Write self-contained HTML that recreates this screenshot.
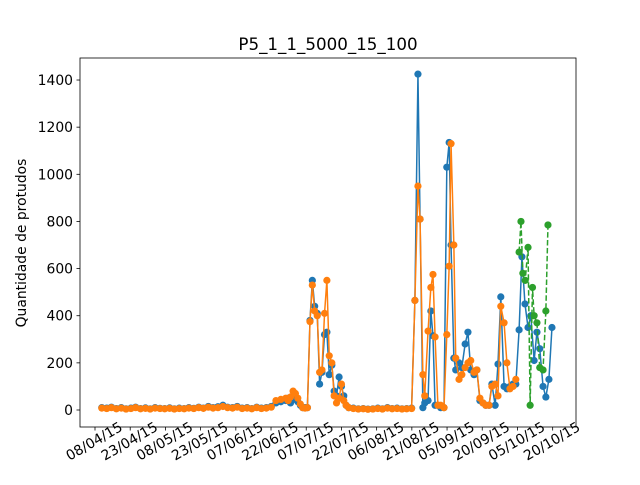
<!DOCTYPE html>
<html><head><meta charset="utf-8"><style>body{margin:0;background:#fff}svg{font-family:"DejaVu Sans","Liberation Sans",sans-serif}</style></head>
<body>
<svg id="chart" width="640" height="480" xmlns="http://www.w3.org/2000/svg">
<rect width="640" height="480" fill="#fff"/>
<text x="328" y="50" text-anchor="middle" font-size="16.7">P5_1_1_5000_15_100</text>
<text transform="translate(26,243) rotate(-90)" text-anchor="middle" font-size="13.9">Quantidade de protudos</text>
<g id="axes"></g>
<g id="plot"></g>
<rect x="80" y="58" width="496" height="369" fill="none" stroke="#000" stroke-width="0.8"/>
</svg>
<script>
const xTickLabels=["08/04/15","23/04/15","08/05/15","23/05/15","07/06/15","22/06/15","07/07/15","22/07/15","06/08/15","21/08/15","05/09/15","20/09/15","05/10/15","20/10/15"];
const xTickDays=[0,15,30,45,60,75,90,105,120,135,150,165,180,195];
const yTicks=[0,200,400,600,800,1000,1200,1400];
const blueDays=[2.9,5,7,9.1,11.2,13.2,15.3,17.3,19.4,21.5,23.5,25.6,27.7,29.7,31.8,33.8,35.9,38,40,42.1,44.2,46.2,48.3,50.3,52.4,54.5,56.5,58.6,60.6,62.7,64.8,66.8,68.9,70.9,73,75.1,77.1,79.2,81.3,82.3,83.3,84.4,85.4,86.4,87.5,88.5,89.5,90.5,91.6,92.6,93.6,94.7,95.7,96.7,97.8,98.8,99.8,100.9,101.9,102.9,104,105,106,107,108.1,110.1,112.2,114.3,116.3,118.4,120.5,122.5,124.6,126.6,128.7,130.8,132.8,134.9,136.3,137.6,138.5,139.7,140.5,141.9,143.1,144,144.9,146.1,147.3,148.7,149.9,150.9,151.7,152.9,153.7,155.1,156.3,157.7,158.9,160.1,161.5,162.7,164,165.3,166.5,167.9,169.1,170.5,171.7,172.9,174.3,175.5,176.8,178.1,179.3,180.7,181.9,183.2,184.5,185.7,187.1,188.3,189.5,190.9,192.1,193.4,194.7];
const blueVals=[10,8,12,6,10,5,8,12,6,9,5,10,7,6,9,5,8,6,10,7,12,8,15,10,14,20,12,10,15,8,10,6,12,8,10,15,30,35,40,50,30,60,45,35,20,10,10,10,380,550,440,410,110,160,320,330,150,190,80,60,140,100,60,20,10,8,5,6,4,5,8,5,10,6,8,5,6,8,465,1425,810,10,30,40,420,315,20,20,10,10,1030,1135,700,220,170,200,180,280,330,170,150,170,40,30,20,20,110,20,195,480,100,90,100,110,110,340,650,450,350,400,210,330,260,100,55,130,350];
const orangeDays=[2.9,5,7,9.1,11.2,13.2,15.3,17.3,19.4,21.5,23.5,25.6,27.7,29.7,31.8,33.8,35.9,38,40,42.1,44.2,46.2,48.3,50.3,52.4,54.5,56.5,58.6,60.6,62.7,64.8,66.8,68.9,70.9,73,75.1,77.1,79.2,81.3,82.3,83.3,84.4,85.4,86.4,87.5,88.5,89.5,90.5,91.6,92.6,93.6,94.7,95.7,96.7,97.8,98.8,99.8,100.9,101.9,102.9,104,105,106,107,108.1,110.1,112.2,114.3,116.3,118.4,120.5,122.5,124.6,126.6,128.7,130.8,132.8,134.9,136.3,137.6,138.5,139.7,140.5,141.9,143.1,144,144.9,146.1,147.3,148.7,149.9,150.9,151.7,152.9,153.7,155.1,156.3,157.7,158.9,160.1,161.5,162.7,164,165.3,166.5,167.9,169.1,170.5,171.7,172.9,174.3,175.5,176.8,178.1,179.3];
const orangeVals=[8,6,10,5,8,4,6,10,5,7,4,8,6,5,7,4,6,5,8,6,10,7,12,8,10,15,10,8,12,6,8,5,10,6,8,12,40,45,50,40,55,80,70,50,25,10,8,10,375,530,420,400,160,170,410,550,230,200,60,30,50,110,40,20,10,6,4,5,3,4,6,4,8,5,6,4,5,6,465,950,810,150,60,335,520,575,310,20,20,10,320,610,1130,700,220,130,150,180,200,210,160,170,50,30,20,20,100,110,60,440,370,200,90,100,130];
const greenDays=[180.7,181.5,182.3,183.3,184.5,185.4,186.4,187.1,188.3,189.5,190.9,192.1,193];
const greenVals=[670,800,580,550,690,20,520,400,370,180,170,420,785];

const NS="http://www.w3.org/2000/svg";
const xS=d=>95+d*2.347;
const yS=v=>410-v*0.2357;
const axes=document.getElementById('axes'),plot=document.getElementById('plot');
function mk(tag,attrs,parent,txt){const e=document.createElementNS(NS,tag);for(const k in attrs)e.setAttribute(k,attrs[k]);if(txt!==undefined)e.textContent=txt;parent.appendChild(e);return e;}
yTicks.forEach(v=>{
  const t=mk('line',{x1:76.5,x2:80,y1:yS(v),y2:yS(v),stroke:'#000','stroke-width':0.8},axes);
  
  
  const l=mk('text',{x:73,y:yS(v)+5,'text-anchor':'end','font-size':13.9},axes,String(v));
  
  
});
xTickDays.forEach((d,i)=>{
  const x=xS(d);
  const t=mk('line',{x1:x,x2:x,y1:427,y2:430.5,stroke:'#000','stroke-width':0.8},axes);
  
  
  const l=mk('text',{x:0,y:5,'text-anchor':'middle','font-size':13.9,transform:`translate(${x-1},${441}) rotate(-30)`},axes,xTickLabels[i]);
  
  
});
function series(days,vals,color,name,dash){
  const g=mk('g',{},plot);
  
  
  const pts=days.map((d,i)=>xS(d)+','+yS(vals[i])).join(' ');
  const pl=mk('polyline',{points:pts,fill:'none',stroke:color,'stroke-width':1.5,'stroke-dasharray':dash||'none','stroke-linejoin':'round'},g);
  
  
  days.forEach((d,i)=>{
    const c=mk('circle',{cx:xS(d),cy:yS(vals[i]),r:3.6,fill:color},g);
    
    
  });
}
series(blueDays,blueVals,'#1f77b4','series-blue');
series(orangeDays,orangeVals,'#ff7f0e','series-orange');
series(greenDays,greenVals,'#2ca02c','series-green','5.5,2.4');
</script>
</body></html>
